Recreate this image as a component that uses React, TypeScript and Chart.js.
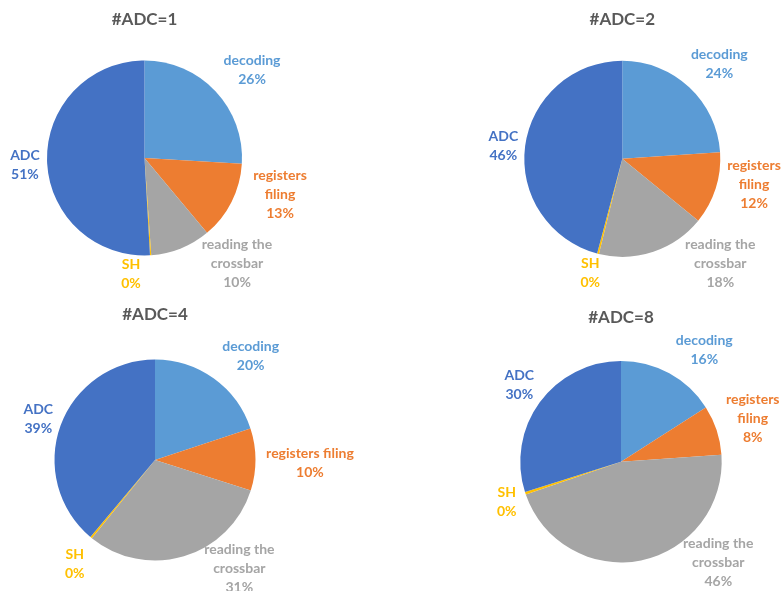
import React, { useEffect, useRef } from "react";
import { Chart, registerables } from "chart.js";

Chart.register(...registerables);

// ---- data ----
const categories = ["decoding", "registers filing", "reading the crossbar", "SH", "ADC"];
const chartTitles = ["#ADC=1", "#ADC=2", "#ADC=4", "#ADC=8"];
const adc1Values = [26, 13, 10, 0.2, 51];
const adc2Values = [24, 12, 18, 0.3, 46];
const adc4Values = [20, 10, 31, 0.3, 39];
const adc8Values = [16, 8, 46, 0.4, 30];

// ---- styles / layout ----
const sliceColors = ["#5B9BD5", "#ED7D31", "#A5A5A5", "#FFC000", "#4472C4"];
const FONT = "Lato, 'Open Sans', sans-serif";

const defaultLines = [["decoding"], ["registers", "filing"], ["reading the", "crossbar"], ["SH"], ["ADC"]];
const oneLineRegisters = [["decoding"], ["registers filing"], ["reading the", "crossbar"], ["SH"], ["ADC"]];

type Panel = {
  title: string;
  values: number[];
  left: number; top: number; w: number; h: number;
  cx: number; cy: number; r: number; titleY: number;
  labelOffsets: number[][];
  lines: string[][];
};

const panels: Panel[] = [
  {
    title: chartTitles[0], values: adc1Values,
    left: 0, top: 0, w: 391, h: 295, cx: 144.5, cy: 158, r: 97.5, titleY: 20,
    labelOffsets: [[1.103, -0.903], [1.39, 0.379], [0.949, 1.077], [-0.138, 1.185], [-1.226, 0.067]],
    lines: defaultLines,
  },
  {
    title: chartTitles[1], values: adc2Values,
    left: 391, top: 0, w: 392, h: 295, cx: 231.3, cy: 158.8, r: 98, titleY: 20,
    labelOffsets: [[0.99, -0.969], [1.344, 0.26], [1.0, 1.073], [-0.327, 1.168], [-1.214, -0.129]],
    lines: defaultLines,
  },
  {
    title: chartTitles[2], values: adc4Values,
    left: 0, top: 295, w: 391, h: 296, cx: 155, cy: 165, r: 100.5, titleY: 20,
    labelOffsets: [[0.952, -1.033], [1.542, 0.028], [0.839, 1.075], [-0.799, 1.03], [-1.161, -0.406]],
    lines: oneLineRegisters,
  },
  {
    title: chartTitles[3], values: adc8Values,
    left: 391, top: 295, w: 392, h: 296, cx: 230, cy: 166.7, r: 100.7, titleY: 22.7,
    labelOffsets: [[0.827, -1.114], [1.308, -0.432], [0.966, 1.004], [-1.135, 0.397], [-1.01, -0.757]],
    lines: defaultLines,
  },
];

const TITLE_SIZE = 17;
const LABEL_SIZE = 14;
const LINE_GAP = 19;

function PieChart({ panel }: { panel: Panel }) {
  const ref = useRef<HTMLCanvasElement | null>(null);
  useEffect(() => {
    if (!ref.current) return;
    const p = panel;
    const titleLineH = TITLE_SIZE * 1.2;
    const total = p.values.reduce((a, b) => a + b, 0);

    const labelPlugin = {
      id: "outsideLabels",
      afterDraw(chart: any) {
        const meta = chart.getDatasetMeta(0);
        if (!meta || !meta.data.length) return;
        const arc0: any = meta.data[0];
        const cx = arc0.x, cy = arc0.y, r = arc0.outerRadius;
        const ctx = chart.ctx;
        ctx.save();
        ctx.font = `bold ${LABEL_SIZE}px ${FONT}`;
        ctx.textAlign = "center";
        ctx.textBaseline = "middle";
        p.values.forEach((v, i) => {
          const pct = Math.round((v / total) * 100) + "%";
          const lines = [...p.lines[i], pct];
          const [fx, fy] = p.labelOffsets[i];
          const x = cx + fx * r;
          const yc = cy + fy * r;
          ctx.fillStyle = sliceColors[i];
          lines.forEach((t, j) => {
            ctx.fillText(t, x, yc + (j - (lines.length - 1) / 2) * LINE_GAP);
          });
        });
        ctx.restore();
      },
    };

    const chart = new Chart(ref.current, {
      type: "pie",
      data: {
        labels: categories,
        datasets: [
          {
            data: p.values,
            backgroundColor: sliceColors,
            borderWidth: 0,
            hoverBorderWidth: 0,
            hoverOffset: 0,
            offset: 0,
          },
        ],
      },
      options: {
        responsive: false,
        animation: false,
        events: [],
        layout: {
          padding: {
            left: p.cx - p.r,
            right: p.w - (p.cx + p.r),
            top: 0,
            bottom: p.h - (p.cy + p.r),
          },
        },
        plugins: {
          legend: { display: false },
          tooltip: { enabled: false },
          title: {
            display: true,
            text: p.title,
            color: "#595959",
            font: { family: FONT, size: TITLE_SIZE, weight: "bold", lineHeight: 1.2 },
            padding: {
              top: p.titleY - titleLineH / 2,
              bottom: p.cy - p.r - (p.titleY + titleLineH / 2),
            },
          },
        },
      },
      plugins: [labelPlugin],
    } as any);
    return () => chart.destroy();
  }, [panel]);

  return (
    <canvas
      ref={ref}
      width={panel.w}
      height={panel.h}
      style={{ position: "absolute", left: panel.left, top: panel.top, width: panel.w, height: panel.h }}
    />
  );
}

export default function App() {
  return (
    <div style={{ position: "fixed", left: 0, top: 0, width: 783, height: 591, background: "#ffffff", overflow: "hidden" }}>
      {panels.map((p, i) => (
        <PieChart key={i} panel={p} />
      ))}
    </div>
  );
}
